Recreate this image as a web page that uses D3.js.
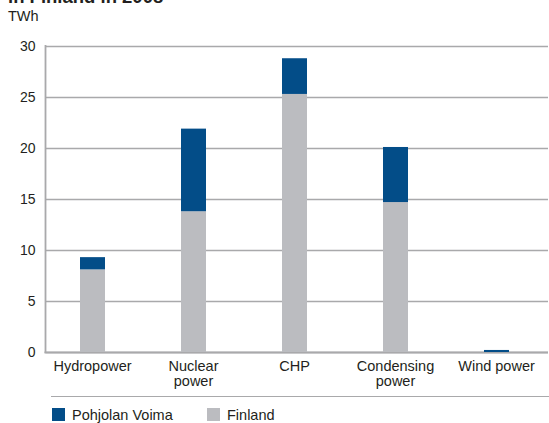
<!DOCTYPE html>
<html>
<head>
<meta charset="utf-8">
<script src="https://cdn.jsdelivr.net/npm/d3@7"></script>
<style>
  html, body { margin: 0; padding: 0; background: #fff; }
  svg { display: block; font-family: "Liberation Sans", Arial, Helvetica, sans-serif; }
</style>
</head>
<body>
<svg id="chart" width="549" height="423"></svg>
<script>
// Electricity production by source, TWh
const categories = ["Hydropower", "Nuclear\npower", "CHP", "Condensing\npower", "Wind power"];
const finland = [8.1, 13.8, 25.3, 14.7, 0.0];
const pohjolanVoima = [1.2, 8.1, 3.5, 5.4, 0.2];
const yTicks = [0, 5, 10, 15, 20, 25, 30];
const seriesNames = ["Pohjolan Voima", "Finland"];

const colors = { "Pohjolan Voima": "#034d88", "Finland": "#bbbcc0" };
const textColor = "#231f20";
const gridColor = "#a9a9ab";

const svg = d3.select("#chart");

const plot = { left: 45.5, right: 548, top: 46, bottom: 352 };

const x = d3.scaleBand()
  .domain(categories)
  .range([42, 547]);
const barW = 25;

const y = d3.scaleLinear()
  .domain([0, 30])
  .range([plot.bottom, plot.top]);

// Title (second line, running off the top edge)
svg.append("text")
  .attr("x", 8).attr("y", 3)
  .attr("font-size", 18.5).attr("font-weight", "bold")
  .attr("fill", textColor)
  .text("in Finland in 2008");

svg.append("text")
  .attr("x", 8).attr("y", 21)
  .attr("font-size", 14.5)
  .attr("fill", textColor)
  .text("TWh");

// Horizontal gridlines with tick labels
const yAxis = d3.axisLeft(y)
  .tickValues(yTicks)
  .tickSize(-(plot.right - plot.left))
  .tickPadding(10)
  .tickFormat(d3.format("d"));

const gy = svg.append("g")
  .attr("transform", `translate(${plot.left},0)`)
  .call(yAxis);
gy.select(".domain").remove();
gy.selectAll(".tick line")
  .attr("stroke", gridColor)
  .attr("stroke-width", 1.5);
gy.selectAll(".tick text")
  .attr("font-size", 14)
  .attr("fill", textColor)
  .attr("font-family", "Liberation Sans, Arial, sans-serif");

// Axis lines
svg.append("line")
  .attr("x1", plot.left).attr("x2", plot.left)
  .attr("y1", plot.top - 1).attr("y2", plot.bottom + 1)
  .attr("stroke", gridColor).attr("stroke-width", 1.8);
svg.append("line")
  .attr("x1", plot.left - 1).attr("x2", plot.right)
  .attr("y1", plot.bottom + 0.5).attr("y2", plot.bottom + 0.5)
  .attr("stroke", gridColor).attr("stroke-width", 1.8);

// Stacked bars
const stackData = categories.map((c, i) => ({
  cat: c,
  "Finland": finland[i],
  "Pohjolan Voima": pohjolanVoima[i]
}));
const stack = d3.stack().keys(["Finland", "Pohjolan Voima"]);
const layers = stack(stackData);

svg.append("g")
  .selectAll("g")
  .data(layers)
  .join("g")
  .attr("fill", d => colors[d.key])
  .selectAll("rect")
  .data(d => d)
  .join("rect")
  .attr("x", d => x(d.data.cat) + x.bandwidth() / 2 - barW / 2)
  .attr("width", barW)
  .attr("y", d => y(d[1]))
  .attr("height", d => y(d[0]) - y(d[1]));

// Category labels
const catLabels = svg.append("g")
  .selectAll("text")
  .data(categories)
  .join("text")
  .attr("text-anchor", "middle")
  .attr("font-size", 14.5)
  .attr("fill", textColor)
  .attr("transform", d => `translate(${x(d) + x.bandwidth() / 2},371)`);
catLabels.selectAll("tspan")
  .data(d => d.split("\n"))
  .join("tspan")
  .attr("x", 0)
  .attr("dy", (d, i) => i === 0 ? 0 : 15)
  .text(d => d);

// Separator above legend
svg.append("line")
  .attr("x1", 51).attr("x2", 549)
  .attr("y1", 396.5).attr("y2", 396.5)
  .attr("stroke", gridColor).attr("stroke-width", 1.2);

// Legend
const legendX = [52, 207];
const legend = svg.append("g")
  .selectAll("g")
  .data(seriesNames)
  .join("g")
  .attr("transform", (d, i) => `translate(${legendX[i]},408)`);
legend.append("rect")
  .attr("width", 13).attr("height", 13)
  .attr("fill", d => colors[d]);
legend.append("text")
  .attr("x", 20).attr("y", 12)
  .attr("font-size", 14.5)
  .attr("fill", textColor)
  .text(d => d);
</script>
</body>
</html>
